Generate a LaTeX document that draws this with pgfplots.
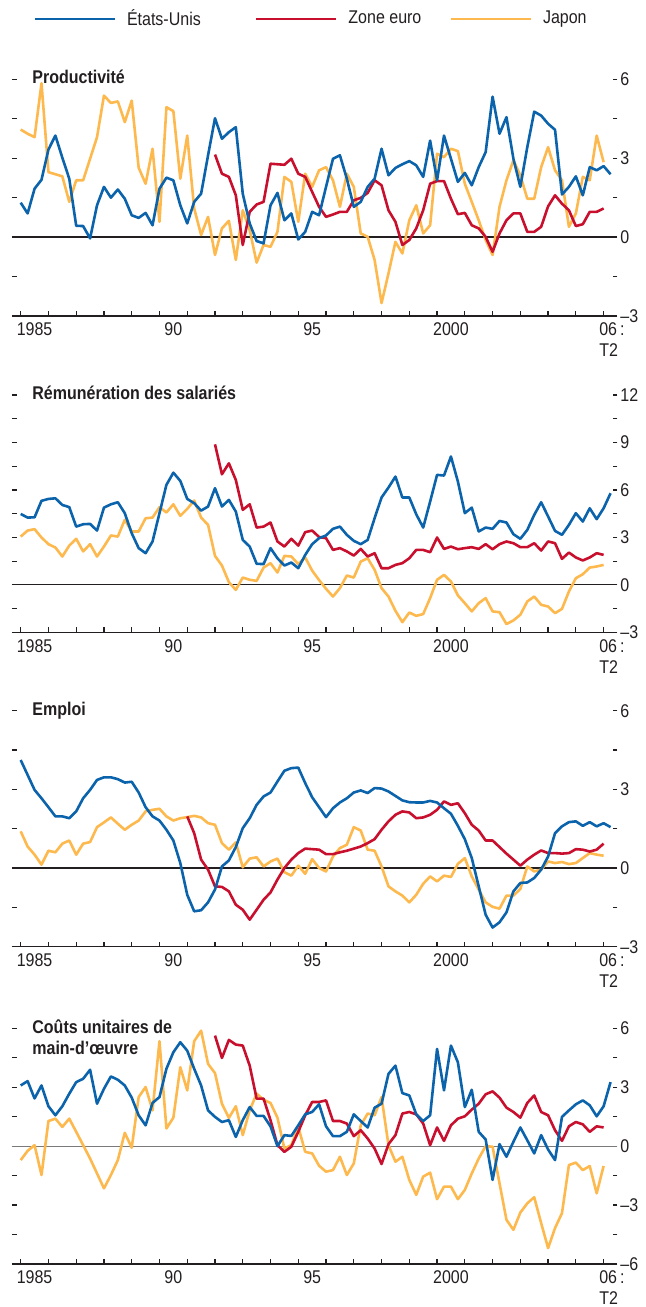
\documentclass[border=0pt]{standalone}
\usepackage{fontspec}
\setmainfont{Liberation Sans}[FakeStretch=0.87]
\usepackage{pgfplots}
\usepackage{pgfplotstable}
\pgfplotsset{compat=1.18}

\definecolor{usBlue}{HTML}{0B63AC}
\definecolor{ezRed}{HTML}{C8102E}
\definecolor{jpGold}{HTML}{FDB94E}
\definecolor{ink}{HTML}{231F20}

\newcommand\lab{\fontsize{9.2}{10.5}\selectfont}
\newcommand\ttl{\fontsize{9.2}{10.5}\selectfont\bfseries}

% Productivite: t, Etats-Unis, Zone euro, Japon (trimestriel)
\pgfplotstableread{
t us ez jp
1985.00 1.31 nan 4.09
1985.25 0.90 nan 3.93
1985.50 1.84 nan 3.80
1985.75 2.18 nan 5.85
1986.00 3.33 nan 2.47
1986.25 3.86 nan 2.39
1986.50 3.02 nan 2.31
1986.75 2.22 nan 1.34
1987.00 0.43 nan 2.16
1987.25 0.42 nan 2.16
1987.50 -0.05 nan 2.98
1987.75 1.21 nan 3.80
1988.00 1.91 nan 5.38
1988.25 1.50 nan 5.10
1988.50 1.81 nan 5.16
1988.75 1.46 nan 4.37
1989.00 0.83 nan 5.19
1989.25 0.73 nan 2.64
1989.50 0.92 nan 2.03
1989.75 0.45 nan 3.36
1990.00 1.84 nan 0.58
1990.25 2.26 nan 4.94
1990.50 2.16 nan 4.79
1990.75 1.21 nan 2.22
1991.00 0.52 nan 3.86
1991.25 1.34 nan 1.09
1991.50 1.65 nan 0.08
1991.75 3.11 nan 0.77
1992.00 4.52 3.14 -0.68
1992.25 3.74 2.41 0.33
1992.50 3.99 2.29 0.62
1992.75 4.18 1.59 -0.87
1993.00 1.65 -0.30 1.02
1993.25 0.52 0.96 0.27
1993.50 -0.15 1.24 -0.97
1993.75 -0.24 1.34 -0.30
1994.00 1.21 2.79 -0.37
1994.25 1.68 2.77 0.20
1994.50 0.64 2.75 2.29
1994.75 0.90 2.98 2.10
1995.00 -0.09 2.41 0.58
1995.25 0.20 2.29 2.41
1995.50 0.96 1.72 1.91
1995.75 0.83 1.15 2.54
1996.00 1.91 0.77 2.66
1996.25 2.98 0.86 2.16
1996.50 3.11 0.96 1.15
1996.75 2.22 0.96 2.41
1997.00 1.15 1.40 1.91
1997.25 1.34 1.49 0.14
1997.50 1.91 1.68 0.01
1997.75 2.22 2.16 -0.87
1998.00 3.36 1.97 -2.51
1998.25 2.35 1.02 -1.38
1998.50 2.63 0.58 -0.18
1998.75 2.77 -0.30 -0.62
1999.00 2.89 -0.11 0.64
1999.25 2.73 0.33 1.21
1999.50 2.29 1.02 0.14
1999.75 3.67 2.03 0.45
2000.00 2.16 2.13 3.17
2000.25 3.86 2.13 3.04
2000.50 2.98 1.46 3.36
2000.75 2.10 0.87 3.27
2001.00 2.44 0.92 2.03
2001.25 1.97 0.45 1.34
2001.50 2.66 0.33 0.64
2001.75 3.23 0.01 -0.11
2002.00 5.34 -0.56 -0.68
2002.25 3.93 0.14 1.15
2002.50 4.56 0.64 2.16
2002.75 2.98 0.90 2.92
2003.00 1.91 0.90 2.35
2003.25 3.42 0.20 1.46
2003.50 4.77 0.20 1.46
2003.75 4.62 0.39 2.66
2004.00 4.31 1.17 3.42
2004.25 4.08 1.59 2.54
2004.50 1.62 1.27 2.16
2004.75 1.91 1.02 0.39
2005.00 2.31 0.42 0.90
2005.25 1.59 0.49 2.29
2005.50 2.66 0.96 2.16
2005.75 2.54 0.96 3.86
2006.00 2.70 1.09 2.85
2006.25 2.39 nan nan
}\tabProd

% Remuneration des salaries
\pgfplotstableread{
t us ez jp
1985.00 4.48 nan 3.05
1985.25 4.25 nan 3.43
1985.50 4.27 nan 3.52
1985.75 5.31 nan 2.99
1986.00 5.43 nan 2.57
1986.25 5.47 nan 2.36
1986.50 5.05 nan 1.79
1986.75 4.91 nan 2.48
1987.00 3.68 nan 2.91
1987.25 3.83 nan 2.11
1987.50 3.85 nan 2.57
1987.75 3.43 nan 1.79
1988.00 4.88 nan 2.42
1988.25 5.09 nan 3.12
1988.50 5.22 nan 3.05
1988.75 4.53 nan 4.11
1989.00 3.26 nan 3.37
1989.25 2.32 nan 3.37
1989.50 2.00 nan 4.21
1989.75 2.74 nan 4.25
1990.00 4.53 nan 4.91
1990.25 6.32 nan 4.57
1990.50 7.09 nan 5.09
1990.75 6.57 nan 4.36
1991.00 5.43 nan 4.80
1991.25 5.16 nan 5.33
1991.50 4.69 nan 4.25
1991.75 4.95 nan 3.79
1992.00 6.11 8.88 1.83
1992.25 4.95 6.99 1.22
1992.50 5.37 7.68 0.17
1992.75 4.63 6.63 -0.32
1993.00 2.84 4.74 0.46
1993.25 2.42 5.09 0.32
1993.50 1.33 3.62 0.25
1993.75 1.31 3.68 1.09
1994.00 2.32 3.94 1.37
1994.25 1.68 2.74 0.78
1994.50 1.22 2.42 1.83
1994.75 1.41 2.91 1.79
1995.00 1.05 2.48 1.31
1995.25 1.89 3.33 1.73
1995.50 2.57 3.43 0.90
1995.75 2.95 3.02 0.30
1996.00 3.12 2.95 -0.25
1996.25 3.54 2.21 -0.74
1996.50 3.68 2.32 -0.21
1996.75 3.16 2.11 0.59
1997.00 2.78 1.85 0.46
1997.25 2.57 2.27 1.47
1997.50 2.84 1.79 1.68
1997.75 4.21 2.00 0.95
1998.00 5.52 1.05 -0.21
1998.25 6.15 1.05 -0.74
1998.50 6.84 1.26 -1.64
1998.75 5.52 1.37 -2.36
1999.00 5.52 1.68 -1.75
1999.25 4.46 2.21 -1.96
1999.50 3.62 2.21 -1.85
1999.75 5.26 2.06 -0.84
2000.00 6.95 2.99 0.32
2000.25 6.91 2.27 0.63
2000.50 8.11 2.42 0.21
2000.75 6.53 2.25 -0.67
2001.00 4.53 2.32 -1.16
2001.25 4.88 2.38 -1.68
2001.50 3.37 2.27 -1.16
2001.75 3.62 2.57 -0.84
2002.00 3.54 2.25 -1.68
2002.25 4.04 2.57 -1.73
2002.50 3.94 2.74 -2.48
2002.75 3.20 2.63 -2.25
2003.00 2.91 2.38 -1.89
2003.25 3.47 2.38 -1.05
2003.50 4.42 2.63 -0.74
2003.75 5.22 2.17 -1.26
2004.00 4.32 2.74 -1.37
2004.25 3.41 2.63 -1.79
2004.50 3.16 1.64 -1.52
2004.75 3.79 2.04 -0.42
2005.00 4.53 1.73 0.42
2005.25 4.00 1.54 0.67
2005.50 4.84 1.73 1.09
2005.75 4.15 2.00 1.16
2006.00 4.84 1.89 1.26
2006.25 5.79 nan nan
}\tabRem

% Emploi
\pgfplotstableread{
t us ez jp
1985.00 4.12 nan 1.40
1985.25 3.55 nan 0.82
1985.50 2.98 nan 0.51
1985.75 2.66 nan 0.13
1986.00 2.32 nan 0.66
1986.25 1.97 nan 0.60
1986.50 1.97 nan 0.93
1986.75 1.90 nan 1.05
1987.00 2.16 nan 0.51
1987.25 2.66 nan 0.93
1987.50 2.98 nan 0.99
1987.75 3.36 nan 1.56
1988.00 3.46 nan 1.74
1988.25 3.46 nan 1.93
1988.50 3.39 nan 1.69
1988.75 3.26 nan 1.46
1989.00 3.29 nan 1.65
1989.25 2.88 nan 1.81
1989.50 2.32 nan 2.16
1989.75 1.97 nan 2.22
1990.00 1.81 nan 2.26
1990.25 1.46 nan 1.97
1990.50 1.05 nan 1.81
1990.75 0.19 nan 1.90
1991.00 -1.02 1.97 1.94
1991.25 -1.65 1.33 1.99
1991.50 -1.61 0.32 1.93
1991.75 -1.31 -0.06 1.71
1992.00 -0.82 -0.70 1.65
1992.25 0.06 -0.72 0.95
1992.50 0.29 -0.89 0.70
1992.75 0.80 -1.40 0.98
1993.00 1.52 -1.59 0.03
1993.25 1.90 -1.97 0.36
1993.50 2.41 -1.59 0.41
1993.75 2.73 -1.21 0.06
1994.00 2.88 -0.93 0.25
1994.25 3.30 -0.44 0.36
1994.50 3.71 0.00 -0.16
1994.75 3.81 0.32 -0.29
1995.00 3.83 0.57 0.09
1995.25 3.24 0.74 -0.22
1995.50 2.70 0.72 0.34
1995.75 2.32 0.70 0.00
1996.00 1.94 0.53 -0.13
1996.25 2.28 0.53 0.44
1996.50 2.50 0.60 0.76
1996.75 2.66 0.66 0.89
1997.00 2.88 0.74 1.56
1997.25 2.96 0.82 1.43
1997.50 2.86 0.95 0.70
1997.75 3.05 1.10 0.66
1998.00 3.03 1.46 0.06
1998.25 2.92 1.78 -0.70
1998.50 2.75 2.03 -0.89
1998.75 2.58 2.16 -1.05
1999.00 2.51 2.12 -1.31
1999.25 2.50 1.90 -1.02
1999.50 2.50 1.93 -0.60
1999.75 2.56 2.03 -0.32
2000.00 2.50 2.22 -0.51
2000.25 2.28 2.54 -0.29
2000.50 2.07 2.41 -0.34
2000.75 1.61 2.47 0.16
2001.00 1.10 2.09 0.38
2001.25 0.38 1.65 -0.32
2001.50 -0.70 1.43 -0.82
2001.75 -1.78 1.05 -1.31
2002.00 -2.27 1.05 -1.48
2002.25 -2.07 0.80 -1.55
2002.50 -1.69 0.55 -1.05
2002.75 -0.89 0.32 -1.05
2003.00 -0.57 0.09 -0.80
2003.25 -0.55 0.32 0.06
2003.50 -0.38 0.51 -0.13
2003.75 -0.06 0.67 -0.06
2004.00 0.44 0.57 0.25
2004.25 1.33 0.57 0.19
2004.50 1.59 0.55 0.23
2004.75 1.75 0.57 0.15
2005.00 1.78 0.72 0.19
2005.25 1.61 0.70 0.38
2005.50 1.75 0.63 0.57
2005.75 1.59 0.70 0.51
2006.00 1.71 0.93 0.47
2006.25 1.56 nan nan
}\tabEmp

% Couts unitaires de main-d'oeuvre
\pgfplotstableread{
t us ez jp
1985.00 3.09 nan -0.71
1985.25 3.31 nan -0.24
1985.50 2.43 nan 0.05
1985.75 3.09 nan -1.47
1986.00 2.03 nan 1.28
1986.25 1.57 nan 1.40
1986.50 2.03 nan 0.98
1986.75 2.67 nan 1.40
1987.00 3.26 nan 0.73
1987.25 3.43 nan 0.05
1987.50 3.89 nan -0.63
1987.75 2.16 nan -1.39
1988.00 2.92 nan -2.15
1988.25 3.55 nan -1.47
1988.50 3.38 nan -0.71
1988.75 3.09 nan 0.68
1989.00 2.47 nan -0.08
1989.25 1.57 nan 2.50
1989.50 1.06 nan 3.01
1989.75 2.20 nan 1.82
1990.00 2.50 nan 5.34
1990.25 3.94 nan 0.90
1990.50 4.78 nan 1.45
1990.75 5.29 nan 4.02
1991.00 4.86 nan 2.84
1991.25 3.94 nan 5.34
1991.50 3.09 nan 5.88
1991.75 1.82 nan 4.19
1992.00 1.49 5.63 3.72
1992.25 1.23 4.49 2.16
1992.50 1.32 5.41 1.44
1992.75 0.47 5.17 2.03
1993.00 1.32 5.12 0.56
1993.25 1.99 4.10 1.82
1993.50 1.54 2.42 2.67
1993.75 1.54 2.42 2.36
1994.00 1.01 1.32 2.20
1994.25 0.00 0.05 1.45
1994.50 0.56 -0.29 -0.12
1994.75 0.52 -0.03 0.05
1995.00 1.06 0.73 0.98
1995.25 1.62 1.57 -0.29
1995.50 1.74 2.25 -0.37
1995.75 2.13 2.25 -1.00
1996.00 1.01 2.33 -1.30
1996.25 0.51 1.28 -1.22
1996.50 0.51 1.28 -0.54
1996.75 0.73 1.15 -1.47
1997.00 1.62 0.51 -0.88
1997.25 1.28 0.81 1.06
1997.50 0.95 0.39 1.66
1997.75 1.96 -0.12 1.57
1998.00 2.16 -0.91 2.50
1998.25 3.68 0.10 0.05
1998.50 4.10 0.56 -0.79
1998.75 2.70 1.66 -0.54
1999.00 2.58 1.74 -1.72
1999.25 1.62 1.62 -2.48
1999.50 1.28 1.15 -1.55
1999.75 1.57 0.05 -1.35
2000.00 4.95 0.95 -2.70
2000.25 2.84 0.27 -2.06
2000.50 5.12 1.06 -2.06
2000.75 4.27 1.40 -2.70
2001.00 1.99 1.52 -2.23
2001.25 2.87 1.86 -1.39
2001.50 0.73 2.16 -0.63
2001.75 0.34 2.64 0.00
2002.00 -1.72 2.79 -0.03
2002.25 0.10 2.47 -1.89
2002.50 -0.54 1.96 -3.75
2002.75 0.22 1.74 -4.26
2003.00 0.95 1.45 -3.38
2003.25 0.30 2.20 -2.91
2003.50 -0.37 2.58 -2.60
2003.75 0.56 1.74 -3.92
2004.00 -0.17 1.57 -5.19
2004.25 -0.71 0.81 -4.17
2004.50 1.49 0.27 -3.41
2004.75 1.82 1.01 -0.96
2005.00 2.13 1.23 -0.84
2005.25 2.33 1.11 -1.22
2005.50 2.08 0.73 -1.01
2005.75 1.52 1.01 -2.40
2006.00 2.03 0.95 -1.01
2006.25 3.26 nan nan
}\tabCout

\pgfplotsset{
  usline/.style={usBlue, line width=1.3pt, line join=round},
  ezline/.style={ezRed, line width=1.3pt, line join=round},
  jpline/.style={jpGold, line width=1.3pt, line join=round},
  panel/.style={
    scale only axis, width=302.75pt,
    xmin=1984.687, xmax=2006.5,
    axis x line*=bottom, axis y line*=box,
    y axis line style={draw=none},
    x axis line style={draw=ink, line width=0.6pt},
    tick align=inside, major tick length=2.5pt,
    tick style={draw=ink, line width=0.6pt},
    xtick={1985,...,2006}, xticklabels={},
    extra x ticks={1985.5,1990.5,1995.5,2000.5,2006.3},
    extra x tick labels={1985,90,95,2000,{06\,:\\T2}},
    extra x tick style={major tick length=0pt},
    xticklabel style={align=left},
    ytick pos=both, yticklabel pos=right,
    yticklabel style={inner xsep=1.25pt},
    tick label style={font=\lab, text=ink},
    extra y ticks={0}, extra y tick labels={},
    extra y tick style={grid=major, major tick length=0pt},
    major grid style={draw=ink, line width=0.6pt},
    unbounded coords=jump,
    every axis title shift=0pt,
    title style={font=\ttl, text=ink, anchor=base west, inner sep=0pt, yshift=0pt},
  },
}

\begin{document}
\begin{tikzpicture}
\useasboundingbox (0,0) rectangle (323pt,653.5pt);

% Productivite
\begin{axis}[panel, at={(6pt,495.5pt)}, anchor=south west, height=118.35pt,
  ymin=-3, ymax=6, ytick={-3,-1.5,0,1.5,3,4.5,6},
  yticklabels={{\textendash3},,0,,3,,6},
  title={Productivité}, title style={at={(axis description cs:0.033,0.982)}},
  legend columns=3,
  legend image code/.code={\draw[#1] (0pt,0pt) -- (40pt,0pt);},
  legend style={at={(axis description cs:0.0347,1.2548)}, anchor=west,
    draw=none, fill=none, inner sep=0pt, font=\lab, text=ink,
    nodes={inner sep=0pt},
    /tikz/every odd column/.append style={column sep=5.5pt},
    /tikz/column 2/.append style={column sep=27pt},
    /tikz/column 4/.append style={column sep=14pt}},
]
\addlegendimage{usline}\addlegendentry{États-Unis}
\addlegendimage{ezline}\addlegendentry{Zone euro}
\addlegendimage{jpline}\addlegendentry{Japon}
\addplot[jpline, forget plot] table[x=t, y=jp] {\tabProd};
\addplot[ezline, forget plot] table[x=t, y=ez] {\tabProd};
\addplot[usline, forget plot] table[x=t, y=us] {\tabProd};
\end{axis}

% Remuneration des salaries
\begin{axis}[panel, at={(6pt,337.35pt)}, anchor=south west, height=118.65pt,
  ymin=-3, ymax=12, ytick={-3,-1.5,0,1.5,3,4.5,6,7.5,9,10.5,12},
  yticklabels={{\textendash3},,0,,3,,6,,9,,12},
  title={Rémunération des salariés}, title style={at={(axis description cs:0.033,0.982)}},
]
\addplot[jpline] table[x=t, y=jp] {\tabRem};
\addplot[ezline] table[x=t, y=ez] {\tabRem};
\addplot[usline] table[x=t, y=us] {\tabRem};
\end{axis}

% Emploi
\begin{axis}[panel, at={(6pt,180.15pt)}, anchor=south west, height=118pt,
  ymin=-3, ymax=6, ytick={-3,-1.5,0,1.5,3,4.5,6},
  yticklabels={{\textendash3},,0,,3,,6},
  title={Emploi}, title style={at={(axis description cs:0.033,0.978)}},
]
\addplot[jpline] table[x=t, y=jp] {\tabEmp};
\addplot[ezline] table[x=t, y=ez] {\tabEmp};
\addplot[usline] table[x=t, y=us] {\tabEmp};
\end{axis}

% Couts unitaires de main-d'oeuvre
\begin{axis}[panel, at={(6pt,21.5pt)}, anchor=south west, height=117.85pt,
  ymin=-6, ymax=6, ytick={-6,-4.5,-3,-1.5,0,1.5,3,4.5,6},
  yticklabels={{\textendash6},,{\textendash3},,0,,3,,6},
  major grid style={draw=ink!60, line width=0.6pt},
  title={Coûts unitaires de}, title style={at={(axis description cs:0.033,0.979)}},
]
\addplot[jpline] table[x=t, y=jp] {\tabCout};
\addplot[ezline] table[x=t, y=ez] {\tabCout};
\addplot[usline] table[x=t, y=us] {\tabCout};
\node[anchor=base west, inner sep=0pt, font=\ttl, text=ink]
  at (axis description cs:0.033,0.889) {main-d’œuvre};
\end{axis}
\end{tikzpicture}
\end{document}
